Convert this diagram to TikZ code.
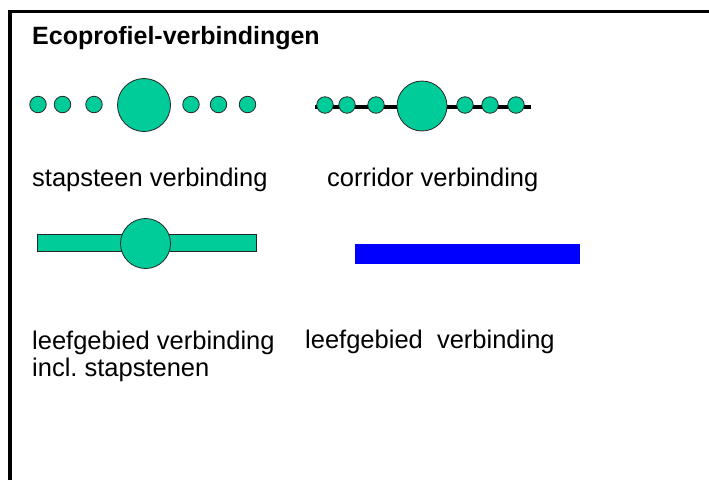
\documentclass[tikz,border=0pt]{standalone}
\usepackage{fontspec}
\setmainfont{Liberation Sans}
\definecolor{eco}{RGB}{0,204,153}
\definecolor{leefblue}{RGB}{0,0,255}
\begin{document}
\begin{tikzpicture}[x=1pt,y=-1pt,
  small/.style={circle,draw=black!85,line width=0.8pt,fill=eco,minimum size=16.5pt,inner sep=0pt},
  big/.style={circle,draw=black!85,line width=0.8pt,fill=eco,minimum size=51pt,inner sep=0pt},
  lbl/.style={anchor=base west,inner sep=0pt,font=\fontsize{25.5}{28}\selectfont},
  ttl/.style={anchor=base west,inner sep=0pt,font=\fontsize{25}{28}\selectfont\bfseries}]
\useasboundingbox (0,0) rectangle (709,480);
% frame
\draw[line width=3.5pt] (10,480) -- (10,11.5) -- (709,11.5);
\node[ttl] (title) at (32,44) {Ecoprofiel-verbindingen};
% stapsteen
\node[small] (s1) at (38,104.5) {};
\node[small] (s2) at (62.5,104.5) {};
\node[small] (s3) at (94,104.5) {};
\node[big,minimum size=53pt] (s4) at (144,105) {};
\node[small] (s5) at (191,104.5) {};
\node[small] (s6) at (218.5,104.5) {};
\node[small] (s7) at (247.5,104.5) {};
\node[lbl] (t1) at (32,186) {stapsteen verbinding};
% corridor
\coordinate (cl) at (315,106.5);
\coordinate (cr) at (531,106.5);
\draw[line width=4pt] (cl) -- (cr);
\node[small] (c1) at (325,105) {};
\node[small] (c2) at (347,105) {};
\node[small] (c3) at (376,105) {};
\node[big,minimum size=50pt] (c4) at (422,106) {};
\node[small] (c5) at (465,105) {};
\node[small] (c6) at (490,105) {};
\node[small] (c7) at (516,105) {};
\node[lbl] (t2) at (327,186) {corridor verbinding};
% leefgebied incl stapstenen
\node[draw=black!85,line width=0.8pt,fill=eco,minimum width=219pt,minimum height=17pt,inner sep=0pt] (r1) at (146.5,242.5) {};
\node[big,minimum size=50pt] (r1c) at (145.5,243.5) {};
\node[lbl] (t3) at (32,349) {leefgebied verbinding};
\node[lbl] (t3b) at (32,376) {incl.\ stapstenen};
% leefgebied
\node[fill=leefblue,minimum width=225pt,minimum height=20pt,inner sep=0pt] (r2) at (467.5,254) {};
\node[lbl] (t4) at (305,348) {leefgebied\ \ verbinding};
\end{tikzpicture}
\end{document}
